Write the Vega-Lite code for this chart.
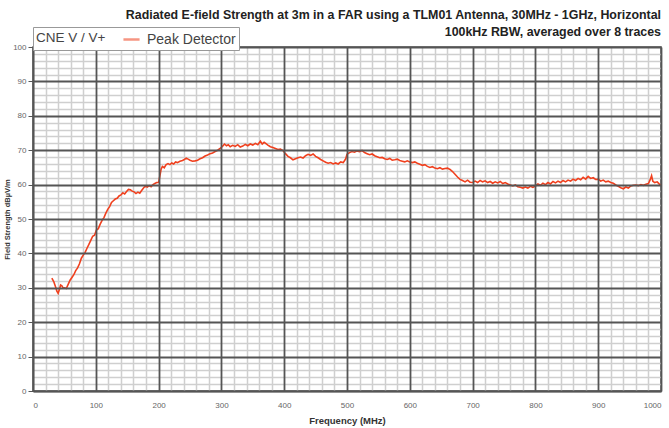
{
  "$schema": "https://vega.github.io/schema/vega-lite/v6.json",
  "width": 628,
  "height": 344,
  "autosize": "none",
  "padding": {"left": 33, "top": 47, "right": 8, "bottom": 37},
  "background": "white",
  "title": {
    "text": ["Radiated E-field Strength at 3m in a FAR using a TLM01 Antenna, 30MHz - 1GHz, Horizontal", "100kHz RBW, averaged over 8 traces"],
    "anchor": "end",
    "frame": "group",
    "font": "Liberation Sans",
    "fontSize": 12.4,
    "fontWeight": "bold",
    "color": "#222",
    "lineHeight": 17,
    "offset": -12
  },
  "config": {
    "view": {"stroke": "#555", "strokeWidth": 1.5},
    "font": "Liberation Sans"
  },
  "data": {"values": [
    {"f":30,"v":32.8},{"f":33,"v":31.8},{"f":36,"v":30.2},{"f":38,"v":29.0},{"f":40,"v":28.4},{"f":42,"v":29.5},{"f":44,"v":30.8},{"f":46,"v":30.6},{"f":48,"v":29.9},{"f":50,"v":30.0},{"f":53,"v":29.8},{"f":56,"v":31.0},{"f":59,"v":32.2},{"f":62,"v":33.0},{"f":65,"v":33.8},{"f":68,"v":35.0},{"f":71,"v":35.8},{"f":74,"v":37.0},{"f":77,"v":38.6},{"f":80,"v":39.5},{"f":83,"v":40.3},{"f":86,"v":41.5},{"f":89,"v":42.6},{"f":92,"v":43.8},{"f":95,"v":45.0},{"f":98,"v":45.3},{"f":101,"v":46.8},{"f":104,"v":47.2},{"f":107,"v":48.5},{"f":110,"v":49.6},{"f":113,"v":50.4},{"f":116,"v":51.7},{"f":119,"v":52.8},{"f":122,"v":53.6},{"f":125,"v":54.8},{"f":128,"v":55.3},{"f":131,"v":55.8},{"f":134,"v":56.0},{"f":137,"v":56.7},{"f":140,"v":57.0},{"f":143,"v":57.6},{"f":146,"v":57.3},{"f":149,"v":58.0},{"f":152,"v":58.6},{"f":155,"v":58.5},{"f":158,"v":58.1},{"f":161,"v":57.9},{"f":164,"v":57.4},{"f":167,"v":57.8},{"f":170,"v":57.5},{"f":173,"v":58.3},{"f":176,"v":59.0},{"f":179,"v":59.6},{"f":182,"v":59.3},{"f":185,"v":59.7},{"f":188,"v":59.4},{"f":191,"v":60.0},{"f":194,"v":60.3},{"f":197,"v":60.6},{"f":200,"v":60.6},{"f":202,"v":62.5},{"f":204,"v":64.5},{"f":206,"v":65.3},{"f":209,"v":64.9},{"f":212,"v":65.8},{"f":215,"v":66.1},{"f":218,"v":65.8},{"f":221,"v":66.3},{"f":224,"v":66.0},{"f":227,"v":66.6},{"f":230,"v":66.4},{"f":234,"v":66.8},{"f":238,"v":67.0},{"f":241,"v":67.3},{"f":244,"v":67.7},{"f":247,"v":67.4},{"f":250,"v":67.1},{"f":254,"v":66.8},{"f":258,"v":66.9},{"f":262,"v":67.1},{"f":266,"v":67.5},{"f":270,"v":67.8},{"f":274,"v":68.3},{"f":278,"v":68.6},{"f":282,"v":69.0},{"f":286,"v":69.2},{"f":290,"v":69.6},{"f":294,"v":70.0},{"f":298,"v":70.5},{"f":302,"v":71.2},{"f":305,"v":71.8},{"f":308,"v":71.3},{"f":311,"v":71.6},{"f":314,"v":71.0},{"f":318,"v":71.4},{"f":322,"v":71.1},{"f":326,"v":71.6},{"f":330,"v":70.9},{"f":334,"v":71.2},{"f":338,"v":71.7},{"f":342,"v":71.3},{"f":346,"v":71.8},{"f":350,"v":71.5},{"f":354,"v":72.0},{"f":358,"v":71.6},{"f":362,"v":72.6},{"f":365,"v":71.8},{"f":368,"v":72.3},{"f":371,"v":71.9},{"f":374,"v":71.5},{"f":378,"v":71.0},{"f":382,"v":70.8},{"f":386,"v":70.5},{"f":390,"v":70.2},{"f":394,"v":70.3},{"f":398,"v":69.9},{"f":402,"v":69.0},{"f":406,"v":68.2},{"f":410,"v":67.8},{"f":414,"v":67.2},{"f":418,"v":67.5},{"f":422,"v":67.8},{"f":426,"v":68.0},{"f":430,"v":67.7},{"f":434,"v":68.4},{"f":438,"v":68.8},{"f":442,"v":68.5},{"f":446,"v":68.9},{"f":450,"v":68.2},{"f":454,"v":67.8},{"f":458,"v":67.3},{"f":462,"v":66.9},{"f":466,"v":66.5},{"f":470,"v":66.2},{"f":474,"v":66.4},{"f":478,"v":66.0},{"f":482,"v":66.3},{"f":486,"v":66.0},{"f":490,"v":66.6},{"f":494,"v":66.4},{"f":498,"v":67.5},{"f":500,"v":68.8},{"f":504,"v":69.3},{"f":508,"v":69.6},{"f":512,"v":69.4},{"f":516,"v":69.8},{"f":520,"v":69.6},{"f":524,"v":69.9},{"f":528,"v":69.3},{"f":532,"v":69.0},{"f":536,"v":68.7},{"f":540,"v":68.9},{"f":544,"v":68.4},{"f":548,"v":68.1},{"f":552,"v":67.8},{"f":556,"v":67.9},{"f":560,"v":67.5},{"f":564,"v":67.3},{"f":568,"v":67.6},{"f":572,"v":67.1},{"f":576,"v":67.2},{"f":580,"v":67.4},{"f":584,"v":67.0},{"f":588,"v":66.8},{"f":592,"v":66.6},{"f":596,"v":66.9},{"f":600,"v":66.6},{"f":604,"v":66.4},{"f":608,"v":66.6},{"f":612,"v":66.2},{"f":616,"v":65.9},{"f":620,"v":65.6},{"f":624,"v":65.8},{"f":628,"v":65.3},{"f":632,"v":65.0},{"f":636,"v":65.2},{"f":640,"v":64.8},{"f":644,"v":64.6},{"f":648,"v":64.9},{"f":652,"v":64.5},{"f":656,"v":64.7},{"f":660,"v":64.8},{"f":664,"v":64.4},{"f":668,"v":63.8},{"f":672,"v":63.0},{"f":676,"v":62.2},{"f":680,"v":61.5},{"f":684,"v":61.2},{"f":688,"v":60.8},{"f":692,"v":61.3},{"f":696,"v":60.7},{"f":700,"v":60.6},{"f":704,"v":61.0},{"f":708,"v":60.6},{"f":712,"v":61.2},{"f":716,"v":60.8},{"f":720,"v":61.1},{"f":724,"v":60.6},{"f":728,"v":60.9},{"f":732,"v":60.4},{"f":736,"v":60.8},{"f":740,"v":60.5},{"f":744,"v":60.9},{"f":748,"v":60.3},{"f":752,"v":60.6},{"f":756,"v":60.2},{"f":760,"v":59.9},{"f":764,"v":59.6},{"f":768,"v":59.9},{"f":772,"v":59.4},{"f":776,"v":59.2},{"f":780,"v":59.0},{"f":784,"v":59.3},{"f":788,"v":59.0},{"f":792,"v":59.5},{"f":796,"v":59.2},{"f":800,"v":59.6},{"f":804,"v":60.2},{"f":808,"v":59.8},{"f":812,"v":60.4},{"f":816,"v":60.0},{"f":820,"v":60.6},{"f":824,"v":60.2},{"f":828,"v":60.9},{"f":832,"v":60.5},{"f":836,"v":61.0},{"f":840,"v":60.6},{"f":844,"v":61.2},{"f":848,"v":60.8},{"f":852,"v":61.3},{"f":856,"v":61.0},{"f":860,"v":61.6},{"f":864,"v":61.2},{"f":868,"v":61.8},{"f":872,"v":61.4},{"f":876,"v":62.1},{"f":880,"v":61.6},{"f":884,"v":62.4},{"f":888,"v":61.8},{"f":892,"v":62.0},{"f":896,"v":61.5},{"f":900,"v":61.6},{"f":904,"v":61.0},{"f":908,"v":61.3},{"f":912,"v":60.8},{"f":916,"v":61.0},{"f":920,"v":60.6},{"f":924,"v":60.4},{"f":928,"v":59.9},{"f":932,"v":59.5},{"f":936,"v":59.1},{"f":940,"v":58.8},{"f":944,"v":59.3},{"f":948,"v":59.0},{"f":952,"v":59.6},{"f":956,"v":59.8},{"f":960,"v":59.9},{"f":964,"v":59.7},{"f":968,"v":60.0},{"f":972,"v":59.8},{"f":976,"v":60.1},{"f":980,"v":60.3},{"f":983,"v":61.5},{"f":985,"v":62.6},{"f":987,"v":61.0},{"f":990,"v":60.6},{"f":994,"v":60.8},{"f":997,"v":60.2},{"f":1000,"v":59.7}
  ]},
  "layer": [
    {
      "mark": {"type": "line", "opacity": 0},
      "encoding": {
        "x": {"field": "f", "type": "quantitative", "scale": {"domain": [0, 1000], "nice": false},
          "axis": {"orient": "bottom", "title": null, "labels": false, "ticks": false, "domain": false, "zindex": 0,
            "values": [20,40,60,80,120,140,160,180,220,240,260,280,320,340,360,380,420,440,460,480,520,540,560,580,620,640,660,680,720,740,760,780,820,840,860,880,920,940,960,980],
            "grid": true, "gridColor": "#cfcfcf", "gridWidth": 1.5}},
        "y": {"field": "v", "type": "quantitative", "scale": {"domain": [0, 100], "nice": false},
          "axis": {"orient": "left", "title": null, "labels": false, "ticks": false, "domain": false, "zindex": 0,
            "values": [2,4,6,8,12,14,16,18,22,24,26,28,32,34,36,38,42,44,46,48,52,54,56,58,62,64,66,68,72,74,76,78,82,84,86,88,92,94,96,98],
            "grid": true, "gridColor": "#cfcfcf", "gridWidth": 1.5}}
      }
    },
    {
      "mark": {"type": "line", "strokeWidth": 1.6, "interpolate": "linear", "zindex": 3},
      "encoding": {
        "x": {"field": "f", "type": "quantitative",
          "axis": {"orient": "bottom", "title": "Frequency (MHz)", "titleFontSize": 9.5, "titleFontWeight": "bold", "titleColor": "#333", "titlePadding": 6, "zindex": 1,
            "values": [0,100,200,300,400,500,600,700,800,900,1000], "format": "d",
            "labelFontSize": 8, "labelColor": "#666", "labelPadding": 10, "tickSize": 0, "domainColor": "#555", "domainWidth": 1.5,
            "grid": true, "gridColor": "#555", "gridWidth": 1.8}},
        "y": {"field": "v", "type": "quantitative",
          "axis": {"orient": "left", "title": "Field Strength dBµV/m", "titleFontSize": 7.5, "titleFontWeight": "bold", "titleColor": "#333", "titlePadding": 1, "zindex": 1,
            "values": [0,10,20,30,40,50,60,70,80,90,100],
            "labelFontSize": 8, "labelColor": "#666", "labelPadding": 2, "tickSize": 5, "tickColor": "#555", "domainColor": "#555", "domainWidth": 1.5,
            "grid": true, "gridColor": "#555", "gridWidth": 1.8}},
        "color": {"datum": "Peak Detector", "type": "nominal",
          "scale": {"range": ["#f0401e"]},
          "legend": {"orient": "none", "legendX": 0, "legendY": -20, "direction": "horizontal", "title": "CNE V / V+", "zindex": 4,
            "titleOrient": "left", "titleFontSize": 13.5, "titleFontWeight": "normal", "titleColor": "#444", "titlePadding": 16,
            "labelFontSize": 14, "labelColor": "#444", "labelOffset": 6,
            "symbolType": "stroke", "symbolStrokeWidth": 2.5, "symbolSize": 260, "symbolOpacity": 0.55,
            "strokeColor": "#999", "fillColor": "white", "padding": 3}}
      }
    }
  ],
  "resolve": {"axis": {"x": "independent", "y": "independent"}}
}
